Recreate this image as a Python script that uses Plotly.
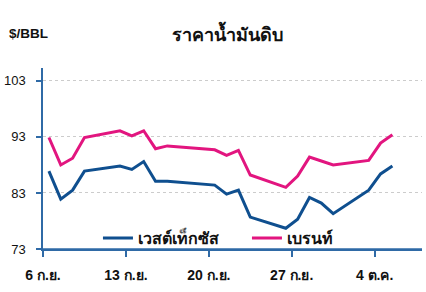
import plotly.graph_objects as go

dates = ["2022-09-06", "2022-09-07", "2022-09-08", "2022-09-09", "2022-09-12",
         "2022-09-13", "2022-09-14", "2022-09-15", "2022-09-16", "2022-09-20",
         "2022-09-21", "2022-09-22", "2022-09-23", "2022-09-26", "2022-09-27",
         "2022-09-28", "2022-09-29", "2022-09-30", "2022-10-03", "2022-10-04",
         "2022-10-05"]
wti = [86.9, 81.9, 83.5, 86.9, 87.8, 87.2, 88.6, 85.1, 85.1, 84.4, 82.8,
       83.5, 78.7, 76.7, 78.3, 82.2, 81.2, 79.3, 83.5, 86.4, 87.8]
brent = [92.9, 88.0, 89.2, 92.9, 94.1, 93.2, 94.1, 90.9, 91.4, 90.7, 89.7,
         90.6, 86.2, 84.0, 86.0, 89.4, 88.7, 88.0, 88.8, 91.9, 93.4]
tick_vals = ["2022-09-06", "2022-09-13", "2022-09-20", "2022-09-27", "2022-10-04"]
tick_text = ["6 ก.ย.", "13 ก.ย.", "20 ก.ย.", "27 ก.ย.", "4 ต.ค."]
y_ticks = [73, 83, 93, 103]
series_names = ["เวสต์เท็กซัส", "เบรนท์"]

BLUE = "#0f4f8f"
PINK = "#e2157f"
AXIS = "#2f6aa6"
FONT = "Liberation Sans, Arial, sans-serif"

x_mid = [d + " 12:00" for d in dates]

fig = go.Figure()
fig.add_trace(go.Scatter(x=x_mid, y=wti, mode="lines", name=series_names[0],
                         line=dict(color=BLUE, width=3)))
fig.add_trace(go.Scatter(x=x_mid, y=brent, mode="lines", name=series_names[1],
                         line=dict(color=PINK, width=3)))

fig.update_layout(
    width=426, height=292,
    margin=dict(l=43, r=4, t=68, b=43),
    paper_bgcolor="white", plot_bgcolor="white",
    font=dict(family=FONT, color="#111111"),
    title=dict(text="ราคาน้ำมันดิบ", x=0.535, xanchor="center",
               y=0.88, yanchor="middle",
               font=dict(size=18, color="#111111", weight="bold")),
    showlegend=True,
    legend=dict(orientation="h", x=0.145, xanchor="left", y=0.06, yanchor="middle",
                bgcolor="rgba(0,0,0,0)",
                font=dict(size=16, color="#111111", weight="bold"),
                itemwidth=30, tracegroupgap=0, entrywidth=104),
    annotations=[dict(text="$/BBL", xref="paper", yref="paper",
                      x=-0.095, y=1.19, xanchor="left", yanchor="middle",
                      showarrow=False,
                      font=dict(size=13.5, color="#111111", weight="bold"))],
    shapes=[dict(type="line", xref="paper", yref="paper", x0=-0.016, x1=1,
                 y0=0, y1=0, line=dict(color=AXIS, width=1.5))],
)
fig.update_xaxes(
    type="date", range=["2022-09-06", "2022-10-08"],
    tickvals=tick_vals, ticktext=tick_text,
    showgrid=False, showline=True, linecolor=AXIS, linewidth=1.5,
    ticks="outside", ticklen=6, tickcolor=AXIS, tickwidth=1.5,
    tickfont=dict(size=14, color="#111111", family=FONT, weight="bold"),
    ticklabelstandoff=6, zeroline=False,
)
fig.update_yaxes(
    range=[73, 105.3], tickvals=y_ticks,
    showgrid=True, gridcolor="#cccccc", griddash="dot", gridwidth=1,
    showline=True, linecolor=AXIS, linewidth=1.5,
    ticks="outside", ticklen=5, tickcolor=AXIS, tickwidth=1.5,
    tickfont=dict(size=13, color="#111111", family=FONT),
    ticklabelstandoff=8, zeroline=False,
)
fig.write_html("out.html")
